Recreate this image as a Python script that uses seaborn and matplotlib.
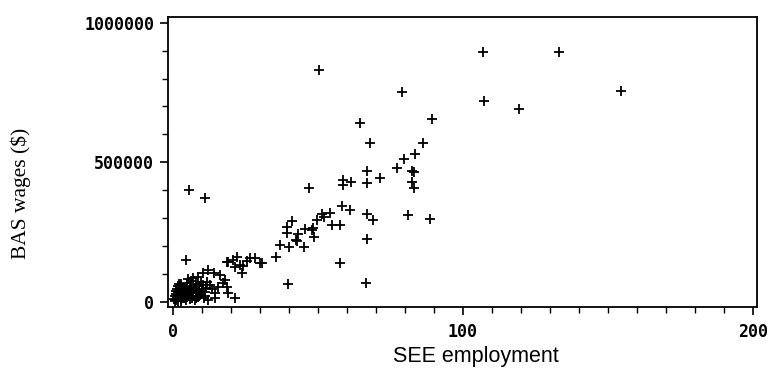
import numpy as np
import pandas as pd
import matplotlib
matplotlib.use("Agg")
import matplotlib.pyplot as plt
import seaborn as sns
from matplotlib.ticker import MultipleLocator

# SEE employment vs BAS wages
upper_x = [106.9, 133.3, 154.7, 107.5, 119.4, 89.6, 86.4, 50.5, 79.0, 64.7,
           68.1, 83.6, 79.9, 77.5, 82.7, 83.3, 66.9, 71.5, 58.6, 61.6,
           58.6, 66.9, 82.7, 83.3, 47.0, 5.8, 11.2, 58.5, 61.1, 66.9,
           69.2, 81.3, 88.8, 51.6, 54.3, 49.9, 52.3, 41.1, 39.3, 55.1,
           57.6, 45.7, 48.5, 48.0, 43.3, 39.3, 48.9, 42.4, 66.9, 37.0,
           40.2, 45.4, 43.0]
upper_y = [894000, 895000, 756000, 719000, 690000, 654000, 570000, 830000, 750000, 639000,
           570000, 529000, 510000, 478000, 470000, 465000, 468000, 444000, 436000, 428000,
           417000, 424000, 430000, 406000, 407000, 399000, 371000, 344000, 329000, 315000,
           293000, 311000, 296000, 314000, 318000, 293000, 302000, 288000, 269000, 274000,
           274000, 259000, 263000, 258000, 244000, 245000, 233000, 221000, 224000, 203000,
           196000, 196000, 218000]

mid_x = [35.7, 57.7, 39.9, 66.7, 26.7, 28.4, 25.5, 30.1, 24.4, 23.8,
         19.2, 20.9, 22.1, 23.2, 21.5, 12.3, 14.1, 10.6, 8.9, 16.3,
         18.1, 17.5, 4.5, 21.5, 14.6, 12.3, 18.7, 19.2, 30.7, 18.7]
mid_y = [161000, 138000, 63000, 66000, 156000, 156000, 147000, 140000, 128000, 102000,
         143000, 149000, 161000, 131000, 125000, 114000, 102000, 102000, 90000, 96000,
         78000, 66000, 149000, 12000, 12000, 6000, 54000, 30000, 140000, 143000]

low_x = [1, 1.5, 2, 2.5, 3, 1, 2, 3.5, 4, 4.5, 5, 5.5, 6, 6.5, 7, 7.5, 8, 8.5, 9, 9.5,
         10, 10.5, 11, 11.5, 12, 1.5, 2.5, 3, 4, 5, 6, 7, 8, 9, 3, 2, 0.5, 0.8, 1.2, 4.2,
         5.8, 6.8, 7.8, 3.8, 2.2, 1.8, 4.8, 9.8, 10.8, 11.2, 8.2, 6.2, 5.2, 7.2, 3.2, 0.7,
         2.8, 4.4, 6.6, 8.8, 13.5, 14.5, 13.0, 15.5]
low_y = [5000, 12000, 3000, 20000, 8000, 28000, 35000, 15000, 25000, 5000,
         18000, 32000, 10000, 40000, 22000, 48000, 15000, 30000, 55000, 25000,
         40000, 60000, 35000, 50000, 70000, 45000, 55000, 62000, 42000, 50000,
         58000, 35000, 65000, 45000, 30000, 18000, 10000, 22000, 40000, 35000,
         28000, 12000, 5000, 50000, 65000, 58000, 68000, 72000, 12000, 22000,
         42000, 75000, 80000, 85000, 42000, 2000, 1000, 12000, 22000, 18000,
         45000, 30000, 60000, 52000]

df = pd.DataFrame({
    "see": upper_x + mid_x + low_x,
    "bas": upper_y + mid_y + low_y,
})

sns.set_style("ticks")
plt.rcParams["font.family"] = ["DejaVu Sans"]
plt.rcParams.update({"text.color": "black", "axes.labelcolor": "black",
                     "xtick.color": "black", "ytick.color": "black"})

fig = plt.figure(figsize=(7.73, 3.72), dpi=100)
ax = fig.add_axes([0.2173, 0.1747, 0.762, 0.7803])

sns.scatterplot(data=df, x="see", y="bas", marker="+", s=45, color="black",
                linewidth=1.3, ax=ax, legend=False)

ax.set_xlim(-1.6, 201.5)
ax.set_ylim(-19000, 1021500)
ax.xaxis.set_major_locator(MultipleLocator(100))
ax.xaxis.set_minor_locator(MultipleLocator(10))
ax.yaxis.set_major_locator(MultipleLocator(500000))
ax.yaxis.set_minor_locator(MultipleLocator(100000))
ax.ticklabel_format(style="plain", axis="y")

for sp in ax.spines.values():
    sp.set_visible(True)
    sp.set_linewidth(1.3)
    sp.set_color("black")

ax.tick_params(axis="both", which="major", length=6, width=1.2, direction="out",
               top=False, right=False, pad=4, colors="black")
ax.tick_params(axis="both", which="minor", length=4, width=1.0, direction="out",
               top=False, right=False, colors="black")
ax.tick_params(axis="x", which="major", pad=5.5)
for lab in ax.get_xticklabels() + ax.get_yticklabels():
    lab.set_family("DejaVu Sans Mono")
    lab.set_fontweight("bold")
    lab.set_fontsize(12)

ax.set_xlabel("SEE employment", family="Liberation Sans", fontsize=15.5, color="black")
ax.set_ylabel("BAS wages ($)", family="Liberation Serif", fontsize=15.5, color="black")
ax.xaxis.set_label_coords(0.522, -0.135)
ax.yaxis.set_label_coords(-0.232, 0.39)

fig.savefig("out.png", dpi=100)
